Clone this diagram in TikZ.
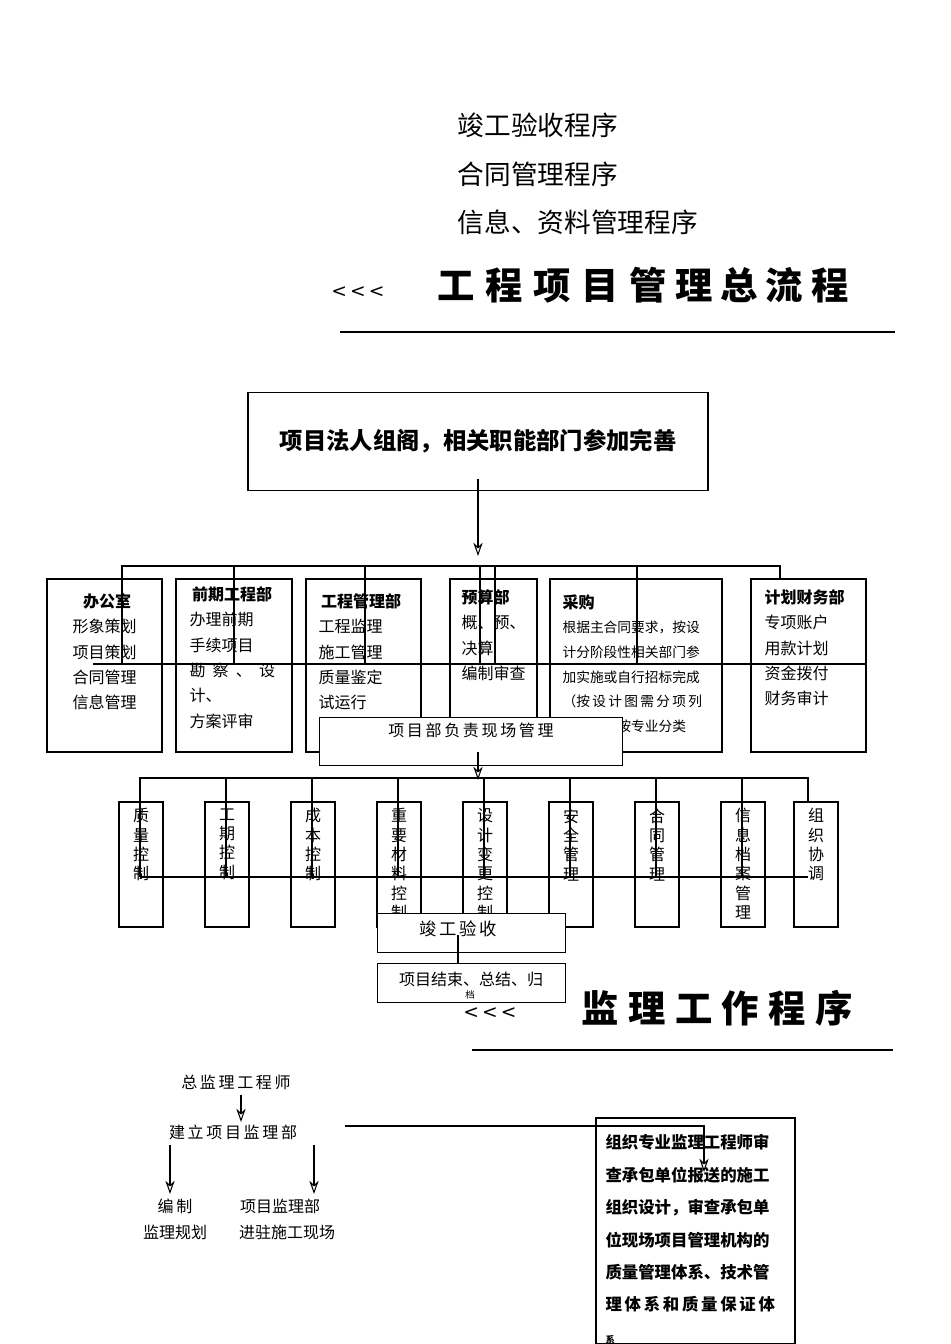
\documentclass[tikz,border=0pt]{standalone}
\usepackage{fontspec}
\setmainfont{Noto Sans CJK SC}
\newfontfamily\arrf{DejaVu Sans}
\usetikzlibrary{arrows.meta}
\begin{document}
\begin{tikzpicture}[x=0.75pt,y=-0.75pt,line width=0.8pt,
 bx/.style={draw},
 arr/.style={-{Stealth[open,length=10pt,width=7pt]}},
 dept/.style={anchor=north west,align=left,font=\fontsize{12}{19}\selectfont,inner sep=0pt},
 vt/.style={anchor=north,align=center,font=\fontsize{12}{14.5}\selectfont,inner sep=0pt}]
\useasboundingbox (0,0) rectangle (950,1344);
\node[anchor=west,font=\fontsize{20}{20}\selectfont] (l1) at (453,125) {竣工验收程序};
\node[anchor=west,font=\fontsize{20}{20}\selectfont] (l2) at (453,174) {合同管理程序};
\node[anchor=west,font=\fontsize{20}{20}\selectfont] (l3) at (453,222) {信息、资料管理程序};
\node[font=\arrf\fontsize{14}{14}\selectfont] (c1) at (358,292) {<\,<\,<};
\node[anchor=west,font=\fontsize{28}{28}\selectfont\bfseries] (t1) at (433,285) {工\hspace{8pt}程\hspace{8pt}项\hspace{8pt}目\hspace{8pt}管\hspace{6pt}理\hspace{6pt}总\hspace{6pt}流\hspace{6pt}程};
\draw (340,332) -- (895,332);
\node[bx,minimum width=345pt,minimum height=74pt,font=\fontsize{17.5}{17.5}\selectfont\bfseries] (top) at (478,441.5) {项目法人组阁，相关职能部门参加完善};
\coordinate (a1) at (478,556);
\draw[arr] (top.south) ++(0,-12) -- (a1);
\draw (122,579) |- (780,566) -- (780,579);
\foreach \x in {234,365,495,637} \draw (\x,566) -- (\x,579);
\draw (47,579) rectangle (162,752);
\draw (176,579) rectangle (292,752);
\draw (306,579) rectangle (421,752);
\draw (450,579) rectangle (537,752);
\draw (550,579) rectangle (722,752);
\draw (751,579) rectangle (866,752);
\node[dept] (d1) at (72,593) {\hspace*{8pt}\textbf{办公室}\\形象策划\\项目策划\\合同管理\\信息管理};
\node[dept] (d2) at (189,586) {\,\textbf{前期工程部}\\办理前期\\手续项目\\勘\ \ 察\ \ 、\ \ 设\\计、\\方案评审};
\node[dept] (d3) at (318,593) {\,\textbf{工程管理部}\\工程监理\\施工管理\\质量鉴定\\试运行\\竣工验收};
\node[dept] (d4) at (461,589) {\textbf{预算部}\\概、预、\\决算\\编制审查};
\node[dept,font=\fontsize{10.3}{18.5}\selectfont] (d5) at (562,594) {\fontsize{12}{12}\selectfont\textbf{采购}\\根据主合同要求，按设\\计分阶段性相关部门参\\加实施或自行招标完成\\（按\,设\,计\,图\,需\,分\,项\,列\\表）材料按专业分类};
\node[dept] (d6) at (764,589) {\textbf{计划财务部}\\专项账户\\用款计划\\资金拨付\\财务审计};
\draw (93,664) -- (866,664);
\foreach \x in {122,234,365,480,495,637} \draw (\x,566) -- (\x,664);
\node[bx,fill=white,minimum width=227pt,minimum height=36pt,anchor=north west] (pm) at (319,717) {};
\node[font=\fontsize{12}{12}\selectfont] (pmt) at (471,730) {项\,目\,部\,负\,责\,现\,场\,管\,理};
\coordinate (a2) at (478,780);
\draw[arr] (478,752) -- (a2);
\draw (140,802) |- (808,778) -- (808,802);
\foreach \x in {226,312,398,484,570,656,742} \draw (\x,778) -- (\x,802);
\foreach \x/\t [count=\i] in {119/质\\量\\控\\制,205/工\\期\\控\\制,291/成\\本\\控\\制,377/重\\要\\材\\料\\控\\制,463/设\\计\\变\\更\\控\\制,549/安\\全\\管\\理,635/合\\同\\管\\理,721/信\\息\\档\\案\\管\\理,794/组\\织\\协\\调}{
 \draw (\x,802) rectangle ++(44,125);
 \node[vt] (s\i) at (\x+22,808) {\t};
}
\draw (140,877) -- (808,877);
\foreach \x in {140,226,312,398,484,570,656,742} \draw (\x,778) -- (\x,877);
\node[bx,fill=white,minimum width=141pt,minimum height=29pt,anchor=north west] (js) at (377,913) {};
\node[font=\fontsize{13}{13}\selectfont] (jst) at (458,929) {竣\,工\,验\,收};
\draw (458,935) -- (458,963);
\node[bx,fill=white,minimum width=141pt,minimum height=29pt,anchor=north west] (end) at (377,963) {};
\node[font=\fontsize{12}{12}\selectfont] (endt) at (471,979) {项目结束、总结、归};
\node[font=\fontsize{7}{7}\selectfont] (endt2) at (470,995) {档};
\node[font=\arrf\fontsize{14}{14}\selectfont] (c2) at (490,1013) {<\,<\,<};
\node[anchor=west,font=\fontsize{28}{28}\selectfont\bfseries] (t2) at (577,1008) {监\hspace{7pt}理\hspace{7pt}工\hspace{7pt}作\hspace{7pt}程\hspace{7pt}序};
\draw (472,1050) -- (893,1050);
\node[font=\fontsize{12}{12}\selectfont] (zj) at (236,1082) {总\,监\,理\,工\,程\,师};
\node[font=\fontsize{12}{12}\selectfont] (jl) at (233,1132) {建\,立\,项\,目\,监\,理\,部};
\draw[arr] (241,1095) -- (241,1122);
\draw[arr] (170,1145) -- (170,1194);
\draw[arr] (314,1145) -- (314,1194);
\node[font=\fontsize{12}{12}\selectfont] (bz) at (175,1206) {编\,制};
\node[font=\fontsize{12}{12}\selectfont] (gh) at (175,1232) {监理规划};
\node[font=\fontsize{12}{12}\selectfont] (xm) at (280,1206) {项目监理部};
\node[font=\fontsize{12}{12}\selectfont] (jz) at (287,1232) {进驻施工现场};
\draw (596,1118) rectangle (795,1344);
\node[anchor=north west,align=left,inner sep=0pt,font=\fontsize{12.3}{24.3}\selectfont\bfseries] (rb) at (605,1134) {组织专业监理工程师审\\查承包单位报送的施工\\组织设计，审查承包单\\位现场项目管理机构的\\质量管理体系、技术管\\理\,体\,系\,和\,质\,量\,保\,证\,体\\{\fontsize{7}{7}\selectfont 系}};
\draw[arr] (345,1126) -- (704,1126) -- (704,1172);
\end{tikzpicture}
\end{document}
